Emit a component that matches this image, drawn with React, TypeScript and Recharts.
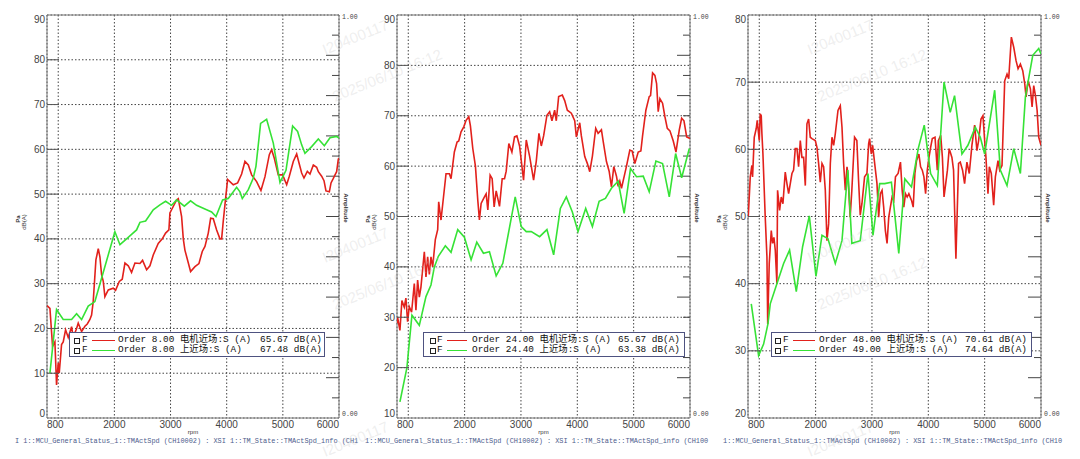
import React from "react";
import { CartesianGrid, Line, LineChart, ReferenceArea, ReferenceLine, XAxis, YAxis } from "recharts";

// ---- axes -----------------------------------------------------------------
const RPM_TICKS = [800, 1000, 2000, 3000, 4000, 5000, 6000];
// amplitude axis on the right (0..1), drawn as inward tick marks
const AMP_TICKS = [
  0.05, 0.1, 0.15, 0.2, 0.25, 0.3, 0.35, 0.4, 0.45, 0.5, 0.55, 0.6, 0.65, 0.7,
  0.75, 0.8, 0.85, 0.9, 0.95,
];
const P1_DB_TICKS = [0, 10, 20, 30, 40, 50, 60, 70, 80, 90];
const P2_DB_TICKS = [10, 20, 30, 40, 50, 60, 70, 80, 90];
const P3_DB_TICKS = [20, 30, 40, 50, 60, 70, 80];

// ---- panel 1 : order 8 ----------------------------------------------------
const P1_RED_RPM = [
  800, 852, 899, 941, 970, 1000, 1018, 1059, 1089, 1131, 1178, 1238, 1267, 1327, 1356,
  1416, 1475, 1517, 1564, 1594, 1623, 1671, 1713, 1742, 1772, 1802, 1831, 1891, 1980,
  2021, 2087, 2140, 2188, 2247, 2306, 2366, 2455, 2502, 2574, 2633, 2692, 2781, 2853,
  2912, 2971, 2989, 3108, 3138, 3197, 3227, 3256, 3357, 3435, 3506, 3565, 3613, 3672,
  3714, 3761, 3821, 3880, 3910, 3939, 4016, 4117, 4195, 4266, 4325, 4385, 4444, 4533,
  4610, 4682, 4759, 4800, 4848, 4919, 4996, 5068, 5115, 5186, 5246, 5287, 5335, 5376,
  5436, 5483, 5543, 5602, 5632, 5691, 5733, 5768, 5828, 5858, 5899, 5929, 5958, 5988, 6000,
];
const P1_RED_DB = [
  25.1, 24.5, 16, 17, 7.4, 12.3, 10, 16.4, 17, 19.7, 18, 20.4, 18, 20, 21.2,
  19.3, 20.5, 21, 22, 23, 26, 35.3, 37.8, 36, 32, 30.5, 27.1, 28.6, 29,
  28.5, 30.5, 31, 34.6, 34, 32.5, 34.6, 34.5, 35.2, 33.1, 34, 36.4, 39, 40,
  41.3, 42, 45.8, 48.7, 49, 45, 40, 37.5, 32.7, 33.8, 34.5, 37.2, 38.3, 41.3,
  44.6, 44.5, 42, 40, 40, 44, 53.3, 52.1, 52.5, 54.5, 57.3, 56.5, 54.3, 52.8,
  50.8, 53.9, 58.8, 59.9, 58, 54.3, 54.3, 52.1, 54, 57.3, 59, 57, 54.7, 53.6,
  55.1, 54.5, 56.5, 56, 55, 54, 53, 50.7, 50.5, 52.5, 53.5, 54.3, 55, 57.8, 58,
];
const P1_GREEN_RPM = [
  852, 970, 1089, 1238, 1327, 1416, 1534, 1653, 2009, 2099, 2217, 2306, 2395, 2455,
  2556, 2692, 2811, 2912, 3019, 3108, 3245, 3357, 3464, 3642, 3731, 3809, 3927, 4028,
  4177, 4236, 4278, 4385, 4474, 4521, 4604, 4711, 4830, 4949, 5056, 5174, 5263, 5335,
  5394, 5513, 5632, 5739, 5840, 5958, 6000,
];
const P1_GREEN_DB = [
  10, 24.2, 22, 22, 23.3, 22, 25, 26, 41.6, 38.7, 40, 41, 42, 43.7,
  44, 46.5, 47.6, 48.4, 47.5, 48.7, 47.3, 48.5, 47.5, 46.5, 46, 45, 48.7, 49,
  51.5, 50.5, 49, 51, 53.6, 56.2, 65.8, 66.7, 61.4, 52.6, 55.3, 65.2, 64, 61,
  59.1, 60.6, 62.3, 60.8, 62.6, 62.9, 62.5,
];

// ---- panel 2 : order 24 ---------------------------------------------------
const P2_RED_RPM = [
  800, 810, 852, 887, 929, 958, 988, 1018, 1059, 1107, 1136, 1166, 1196, 1225, 1285,
  1314, 1344, 1374, 1403, 1433, 1480, 1522, 1540, 1581, 1670, 1730, 1759, 1818, 1866,
  1896, 1937, 1985, 2026, 2074, 2103, 2145, 2192, 2234, 2263, 2293, 2352, 2382, 2412,
  2453, 2489, 2524, 2560, 2619, 2667, 2708, 2738, 2785, 2839, 2886, 2928, 2975, 3046,
  3094, 3153, 3183, 3224, 3272, 3319, 3361, 3402, 3461, 3509, 3550, 3598, 3627, 3669,
  3734, 3776, 3823, 3894, 3954, 3983, 4043, 4072, 4132, 4179, 4221, 4268, 4327, 4369,
  4428, 4458, 4517, 4565, 4606, 4648, 4695, 4725, 4754, 4784, 4843, 4873, 4932, 4974,
  5021, 5081, 5128, 5158, 5217, 5276, 5300, 5336, 5377, 5407, 5436, 5466, 5513, 5555,
  5597, 5644, 5703, 5751, 5810, 5852, 5893, 5941, 6000,
];
const P2_RED_DB = [
  28.8, 30, 27.4, 33.3, 32, 33.8, 29.1, 32.1, 31, 36.7, 31.4, 37.4, 34, 36, 43,
  38, 42, 38.5, 42, 40, 45.4, 47.4, 52.9, 49.3, 58.5, 58.5, 57.5, 62.8, 64.8,
  65, 66.8, 67.8, 69.1, 69.8, 68, 63.5, 60, 53.2, 49.3, 52.6, 53.9, 54.5, 51.3,
  58.2, 57.5, 51.9, 55.1, 52, 57.5, 57.5, 59, 64.5, 62.8, 65.8, 66, 64, 57.2,
  65.2, 62, 60, 57.2, 61, 66.5, 64, 66, 70.1, 70.8, 69, 71.1, 69, 73.8,
  74.1, 73, 71.1, 70.5, 69, 65.8, 68.6, 66, 61.9, 60.5, 58.9, 62, 67.5, 66.5,
  67.2, 65, 60.9, 59, 55.9, 59.9, 58, 56, 57, 55.6, 58.5, 60, 63.2, 63,
  60.5, 62.8, 63, 66, 71.1, 73.8, 74, 78.5, 78, 76.4, 70.8, 73.4, 72.5, 69.8,
  67.5, 67, 65, 62.8, 67.2, 69.5, 69, 65.8, 65.5,
];
const P2_GREEN_RPM = [
  852, 976, 1065, 1196, 1314, 1403, 1463, 1534, 1658, 1759, 1878, 1996, 2115, 2216,
  2334, 2441, 2560, 2678, 2898, 3005, 3094, 3183, 3331, 3461, 3580, 3699, 3805, 3912,
  4013, 4149, 4268, 4387, 4499, 4606, 4725, 4831, 4944, 5051, 5170, 5276, 5395, 5513,
  5632, 5745, 5852, 5988,
];
const P2_GREEN_DB = [
  13.2, 20, 30.4, 28.4, 34.1, 36.4, 40, 42.1, 44.2, 42.9, 47.4, 45.9, 41.4, 44.9,
  42.7, 43, 38.2, 40.7, 53.9, 48, 47, 47, 46, 47.4, 42.4, 51.6, 53.9, 50.9,
  47, 51.6, 48, 53, 53.6, 55.6, 57, 50.6, 59.5, 57.9, 58, 54.9, 61, 60.5,
  53.9, 62.5, 57.7, 63.5,
];

// ---- panel 3 : order 48 / 49 ----------------------------------------------
const P3_RED_RPM = [
  804, 840, 869, 881, 911, 946, 964, 988, 1000, 1017, 1035, 1047, 1065, 1106, 1136,
  1150, 1177, 1213, 1236, 1260, 1284, 1313, 1325, 1361, 1390, 1420, 1461, 1491, 1521,
  1580, 1609, 1639, 1669, 1698, 1728, 1757, 1787, 1817, 1846, 1876, 1905, 1935, 1994,
  2024, 2053, 2083, 2113, 2142, 2172, 2201, 2231, 2261, 2290, 2320, 2349, 2397, 2438,
  2468, 2497, 2527, 2557, 2572, 2613, 2643, 2691, 2732, 2762, 2792, 2822, 2869, 2911,
  2941, 2958, 2988, 3012, 3048, 3089, 3119, 3149, 3179, 3208, 3238, 3268, 3298, 3327,
  3357, 3387, 3417, 3464, 3506, 3536, 3565, 3595, 3625, 3655, 3702, 3732, 3762, 3791,
  3833, 3863, 3893, 3922, 3952, 3982, 4012, 4041, 4071, 4119, 4160, 4178, 4220, 4250,
  4279, 4309, 4339, 4371, 4419, 4448, 4490, 4537, 4567, 4608, 4644, 4685, 4727, 4774,
  4822, 4863, 4893, 4935, 4970, 5000, 5023, 5059, 5083, 5118, 5160, 5190, 5237, 5267,
  5308, 5356, 5397, 5427, 5474, 5516, 5557, 5593, 5634, 5676, 5711, 5735, 5771, 5812,
  5842, 5871, 5901, 5931, 5960, 6000,
];
const P3_RED_DB = [
  49.9, 55.9, 57.6, 55.9, 61.8, 63.1, 64.3, 62.3, 61.3, 65.3, 65, 62.3, 59.3, 49.9, 44,
  34, 43, 47.9, 46, 46.9, 45, 40, 53.9, 50.9, 52.9, 51.9, 56.6, 54.9, 53.4,
  56.4, 56.9, 60.1, 60.1, 57.4, 61.3, 58.8, 58.8, 54.6, 63.8, 64.5, 61.8, 61.6, 61.3,
  60.3, 57.9, 55.1, 57.9, 57.4, 53.9, 46.4, 48.9, 57.9, 61.8, 60.6, 62.3, 65.8, 66.5,
  63.3, 57.9, 53.9, 57.4, 56.4, 49.9, 53.9, 61.8, 61.3, 55.4, 50.2, 51.9, 55.9, 56.4,
  60.8, 61.6, 59.3, 60.6, 57.9, 54.9, 49.9, 53.4, 53.9, 51.4, 47.9, 46, 49.9, 51.4,
  52.9, 52.4, 55.9, 56.4, 58.1, 53.9, 51.4, 53.4, 52.9, 53.4, 52.4, 51.4, 56.4, 58.3,
  59.3, 57.4, 56.9, 55.9, 53.4, 56.9, 58.8, 60.3, 61.6, 61.8, 56.9, 61.3, 62.1, 58.8,
  52.9, 54.9, 56.9, 60.1, 58.8, 56.9, 43.7, 57.9, 58.1, 56.9, 54.9, 58.1, 56.4, 60.6,
  63.6, 59.8, 61.3, 64.5, 65, 61.3, 58.8, 53.4, 57.4, 56.4, 51.7, 55.9, 58.3, 56.9,
  57.6, 70.2, 71.2, 70.5, 76.7, 75.2, 73.2, 72, 72.7, 71.7, 69.8, 67.8, 70.2, 69,
  66.3, 69.5, 68, 65.8, 61.8, 60.6,
];
const P3_GREEN_RPM = [
  858, 988, 1077, 1154, 1195, 1313, 1432, 1538, 1657, 1769, 1888, 2006, 2113, 2219,
  2349, 2468, 2572, 2643, 2792, 2929, 3018, 3137, 3226, 3345, 3476, 3583, 3702, 3821,
  3928, 4041, 4160, 4279, 4389, 4466, 4597, 4703, 4834, 4923, 5000, 5178, 5278, 5397,
  5516, 5634, 5723, 5854, 5960, 6000,
];
const P3_GREEN_DB = [
  37, 29.3, 31, 34, 37, 40, 43, 45, 38.8, 45.5, 50.1, 41.1, 47.2, 46.7,
  43, 46.4, 56.9, 46, 46.4, 56.4, 47.2, 54.9, 54.9, 55.1, 44.5, 55.6, 54.4, 60.1,
  63.6, 56.4, 54.6, 70, 65.5, 68, 59.3, 60.6, 63.3, 61.8, 59.3, 68.8, 56.9, 54.6,
  60.1, 56.4, 67.8, 74, 75, 74.2,
];

// ---- legend / labels ------------------------------------------------------
const P1_LABELS = ["Order 8.00 电机近场:S (A)", "Order 8.00 上近场:S (A)"];
const P1_LEVELS = ["65.67 dB(A)", "67.48 dB(A)"];
const P2_LABELS = ["Order 24.00 电机近场:S (A)", "Order 24.40 上近场:S (A)"];
const P2_LEVELS = ["65.67 dB(A)", "63.38 dB(A)"];
const P3_LABELS = ["Order 48.00 电机近场:S (A)", "Order 49.00 上近场:S (A)"];
const P3_LEVELS = ["70.61 dB(A)", "74.64 dB(A)"];
// the channel caption is clipped by each panel in the original
const P1_CHANNEL = "I 1::MCU_General_Status_1::TMActSpd (CH10002) : XSI 1::TM_State::TMActSpd_info (CH1";
const P2_CHANNEL = "1::MCU_General_Status_1::TMActSpd (CH10002) : XSI 1::TM_State::TMActSpd_info (CH100";
const P3_CHANNEL = "1::MCU_General_Status_1::TMActSpd (CH10002) : XSI 1::TM_State::TMActSpd_info (CH10";
const WATERMARK_ID = "I20400117";
const WATERMARK_TIME = "2025/06/10 16:12";

const RED = "#e2211c";
const GREEN = "#36e236";
const SANS = '"Liberation Sans", Arial, sans-serif';
const MONO = '"Liberation Mono", "Noto Sans CJK SC", monospace';

const W = 360;
const H = 459;
const TOP = 15;
const BOTTOM = 418;
const RPM_MIN = 800;
const RPM_MAX = 6000;

const toPoints = (rpm: number[], db: number[]) => rpm.map((r, i) => ({ rpm: r, db: db[i] }));

const PANELS = [
  {
    left: 0, yWidth: 47, ampWidth: 21, yTicks: P1_DB_TICKS,
    red: toPoints(P1_RED_RPM, P1_RED_DB), green: toPoints(P1_GREEN_RPM, P1_GREEN_DB),
    labels: P1_LABELS, levels: P1_LEVELS,
    legend: { left: 69, width: 256, box: 5, f: 13, l1: 23, l2: 46, text: 49, pad: 3 },
    channel: P1_CHANNEL, channelX: 15,
  },
  {
    left: 360, yWidth: 37, ampWidth: 30, yTicks: P2_DB_TICKS,
    red: toPoints(P2_RED_RPM, P2_RED_DB), green: toPoints(P2_GREEN_RPM, P2_GREEN_DB),
    labels: P2_LABELS, levels: P2_LEVELS,
    legend: { left: 63, width: 262, box: 7, f: 14, l1: 24, l2: 44, text: 49, pad: 5 },
    channel: P2_CHANNEL, channelX: 5,
  },
  {
    left: 720, yWidth: 28, ampWidth: 39, yTicks: P3_DB_TICKS,
    red: toPoints(P3_RED_RPM, P3_RED_DB), green: toPoints(P3_GREEN_RPM, P3_GREEN_DB),
    labels: P3_LABELS, levels: P3_LEVELS,
    legend: { left: 51, width: 261, box: 4, f: 12, l1: 22, l2: 44, text: 48, pad: 5 },
    channel: P3_CHANNEL, channelX: 3,
  },
];

type Panel = (typeof PANELS)[number];

function XTick(props: any) {
  const v = props.payload.value;
  if (v === 1000) return <g />;
  const anchor = v === RPM_MIN ? "start" : v === RPM_MAX ? "end" : "middle";
  return (
    <text x={props.x} y={BOTTOM + 10} textAnchor={anchor} fontSize={10} fill="#444" fontFamily={SANS}>
      {v}
    </text>
  );
}

function makeYTick(plotLeft: number, min: number, max: number) {
  return (props: any) => {
    const v = props.payload.value;
    const y = props.y;
    let ty = y + 3.6;
    if (v === max) ty += 4;
    if (v === min) ty -= 4.5;
    return (
      <g>
        <text x={plotLeft - 2} y={ty} textAnchor="end" fontSize={10} fill="#444" fontFamily={SANS}>
          {v}
        </text>
        {v !== min && v !== max && (
          <line x1={plotLeft} x2={plotLeft + 12} y1={y} y2={y} stroke="#555" />
        )}
      </g>
    );
  };
}

const capStyle: React.CSSProperties = {
  position: "absolute",
  fontFamily: SANS,
  fontSize: 6,
  color: "#333",
  whiteSpace: "nowrap",
};

function OrderPanel({ p }: { p: Panel }) {
  const plotLeft = p.yWidth;
  const plotRight = W - p.ampWidth;
  const plotWidth = plotRight - plotLeft;
  const yMin = p.yTicks[0];
  const yMax = p.yTicks[p.yTicks.length - 1];
  const lg = p.legend;
  const midY = (TOP + BOTTOM) / 2;
  // amplitude (0..1) mapped onto this panel's dB scale, tick length in rpm units
  const ampToDb = (a: number) => yMin + a * (yMax - yMin);
  const pxToRpm = (px: number) => (px / plotWidth) * (RPM_MAX - RPM_MIN);
  return (
    <div style={{ position: "absolute", left: p.left, top: 0, width: W, height: H }}>
      <LineChart width={W} height={H} margin={{ top: TOP, right: p.ampWidth, bottom: 0, left: 0 }}>
        <CartesianGrid stroke="#444" strokeDasharray="1.5 2" />
        <XAxis
          type="number"
          dataKey="rpm"
          domain={[RPM_MIN, RPM_MAX]}
          ticks={RPM_TICKS}
          interval={0}
          height={H - BOTTOM}
          axisLine={false}
          tickLine={false}
          tick={XTick}
          allowDataOverflow
        />
        <YAxis
          type="number"
          domain={[yMin, yMax]}
          ticks={p.yTicks}
          interval={0}
          width={p.yWidth}
          axisLine={false}
          tickLine={false}
          tick={makeYTick(plotLeft, yMin, yMax)}
          allowDataOverflow
        />
        {AMP_TICKS.map((a) => {
          const len = Math.round(a * 20) % 2 === 1 ? 7 : 13;
          return (
            <ReferenceLine
              key={a}
              segment={[
                { x: RPM_MAX - pxToRpm(len), y: ampToDb(a) },
                { x: RPM_MAX, y: ampToDb(a) },
              ]}
              stroke="#444"
              ifOverflow="visible"
            />
          );
        })}
        <ReferenceArea x1={RPM_MIN} x2={RPM_MAX} y1={yMin} y2={yMax} fill="none" stroke="#7a7a7a" ifOverflow="visible" />
        <Line data={p.red} dataKey="db" type="linear" stroke={RED} strokeWidth={1.6} dot={false} isAnimationActive={false} />
        <Line data={p.green} dataKey="db" type="linear" stroke={GREEN} strokeWidth={1.6} dot={false} isAnimationActive={false} />
      </LineChart>

      {/* axis captions */}
      <div style={{ ...capStyle, left: plotLeft - 29, top: midY + 2, transform: "translate(-50%,-50%) rotate(-90deg)", fontWeight: 700 }}>Pa</div>
      <div style={{ ...capStyle, left: plotLeft - 23, top: midY + 5, transform: "translate(-50%,-50%) rotate(-90deg)" }}>dB(A)</div>
      <div style={{ ...capStyle, left: plotRight + 7, top: midY - 9, transform: "translate(-50%,-50%) rotate(90deg)", fontWeight: 700 }}>Amplitude</div>
      <div style={{ ...capStyle, left: plotRight + 3, top: TOP - 1, fontFamily: MONO, fontSize: 6.5, lineHeight: "7px", color: "#444" }}>1.00</div>
      <div style={{ ...capStyle, left: plotRight + 3, top: BOTTOM - 7, fontFamily: MONO, fontSize: 6.5, lineHeight: "7px", color: "#444" }}>0.00</div>
      <div style={{ ...capStyle, left: (plotLeft + plotRight) / 2, top: 432, transform: "translate(-50%,-50%)" }}>rpm</div>
      <div style={{ ...capStyle, left: p.channelX, top: 437, fontFamily: MONO, fontSize: 6.9, lineHeight: "8px", color: "#4d5c8c", whiteSpace: "pre" }}>{p.channel}</div>

      {/* legend */}
      <div style={{ position: "absolute", left: lg.left, top: 332, width: lg.width, height: 25, boxSizing: "border-box", border: "1px solid #4e5280", background: "#fff", fontFamily: MONO, fontSize: 9.4, color: "#111" }}>
        {p.labels.map((label, i) => (
          <div key={label} style={{ position: "absolute", left: 0, right: 0, top: 2 + i * 10, height: 10, lineHeight: "10px" }}>
            <span style={{ position: "absolute", left: lg.box - 1, top: 2.5, width: 4, height: 4, border: "1px solid #222" }} />
            <span style={{ position: "absolute", left: lg.f - 1 }}>F</span>
            <span style={{ position: "absolute", left: lg.l1 - 1, top: 4.5, width: lg.l2 - lg.l1, height: 1.6, background: i === 0 ? RED : GREEN }} />
            <span style={{ position: "absolute", left: lg.text - 1, whiteSpace: "pre" }}>{label}</span>
            <span style={{ position: "absolute", right: lg.pad - 1, whiteSpace: "pre" }}>{p.levels[i]}</span>
          </div>
        ))}
      </div>
    </div>
  );
}

// faint tiled watermark: ID + timestamp, rows shown only where they fit
const WM_X = [305, 790];
const WM_Y = [40, 248];
const WM_LAST_ROW_Y = 442;

export default function App() {
  return (
    <div style={{ position: "absolute", left: 0, top: 0, width: 1080, height: 459, background: "#fff", overflow: "hidden" }}>
      {PANELS.map((p) => (
        <OrderPanel key={p.left} p={p} />
      ))}
      <svg width={1080} height={459} style={{ position: "absolute", left: 0, top: 0, pointerEvents: "none" }}>
        <g fill="#c8c8c8" fillOpacity={0.3} fontFamily={SANS} fontSize={15}>
          {WM_X.map((x0) =>
            WM_Y.map((y0) => (
              <g key={`${x0}-${y0}`}>
                <text x={x0 + 20} y={y0 + 15} transform={`rotate(-22 ${x0 + 20} ${y0 + 15})`}>{WATERMARK_ID}</text>
                <text x={x0 + 30} y={y0 + 62} transform={`rotate(-22 ${x0 + 30} ${y0 + 62})`}>{WATERMARK_TIME}</text>
              </g>
            ))
          )}
          {WM_X.map((x0) => (
            <text key={`last-${x0}`} x={x0 + 20} y={WM_LAST_ROW_Y + 15} transform={`rotate(-22 ${x0 + 20} ${WM_LAST_ROW_Y + 15})`}>{WATERMARK_ID}</text>
          ))}
        </g>
      </svg>
    </div>
  );
}
